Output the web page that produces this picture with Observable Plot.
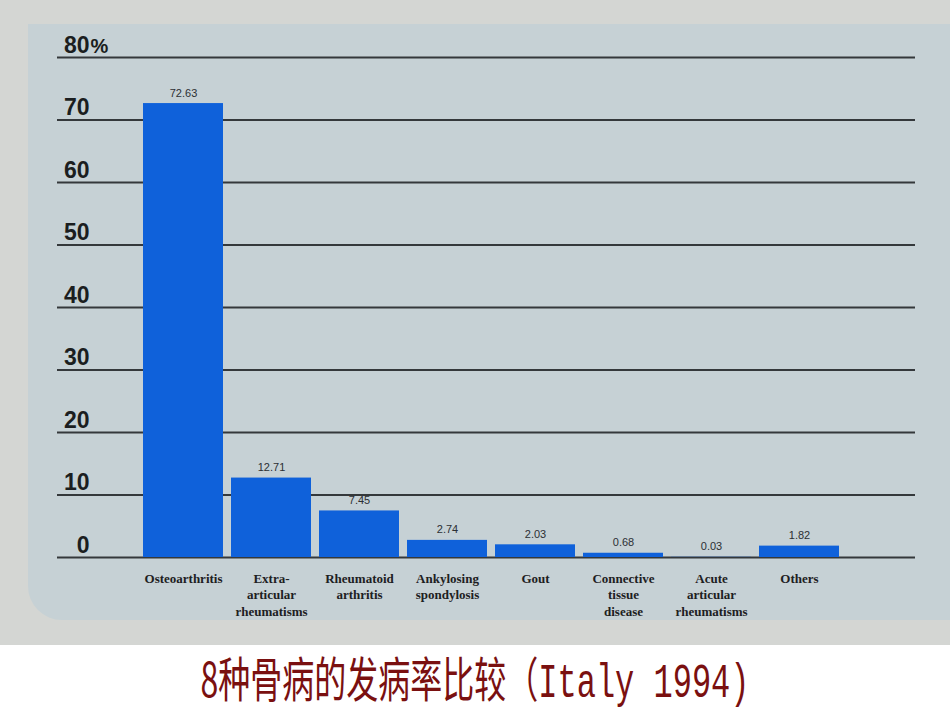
<!DOCTYPE html>
<html>
<head>
<meta charset="utf-8">
<script src="https://cdn.jsdelivr.net/npm/d3@7"></script>
<script src="https://cdn.jsdelivr.net/npm/@observablehq/plot@0.6"></script>
<style>
  html, body { margin: 0; padding: 0; background: #ffffff; }
  #page { position: relative; width: 950px; height: 645px; background: #d4d6d3; overflow: hidden; }
  #panel { position: absolute; left: 28px; top: 24px; width: 940px; height: 596px;
           background: #c6d1d5; border-radius: 0 0 0 34px; }
  #chart { position: absolute; left: 0; top: 0; }
  #title { width: 950px; height: 68px; text-align: center; color: #7a1010;
           font-family: "Noto Sans CJK SC", "Liberation Mono", monospace; font-size: 32px;
           line-height: 68px; white-space: nowrap; }
  #title span { display: inline-block; transform: scaleY(1.5); transform-origin: 50% 55%; }
  #title .mono { font-family: "Liberation Mono", "DejaVu Sans Mono", monospace; transform: none; }
</style>
</head>
<body>
<div id="page">
  <div id="panel"></div>
  <div id="chart"></div>
</div>
<div id="title"><span>8种骨病的发病率比较（<span class="mono">Italy 1994)</span></span></div>
<script>
const categories = ["Osteoarthritis", "Extra-articular rheumatisms", "Rheumatoid arthritis",
  "Ankylosing spondylosis", "Gout", "Connective tissue disease",
  "Acute articular rheumatisms", "Others"];
const categoryLabels = ["Osteoarthritis", "Extra-\narticular\nrheumatisms", "Rheumatoid\narthritis",
  "Ankylosing\nspondylosis", "Gout", "Connective\ntissue\ndisease",
  "Acute\narticular\nrheumatisms", "Others"];
const values = [72.63, 12.71, 7.45, 2.74, 2.03, 0.68, 0.03, 1.82];
const yTicks = [0, 10, 20, 30, 40, 50, 60, 70, 80];
const yTickLabels = ["0", "10", "20", "30", "40", "50", "60", "70", "80"];

const data = categories.map((c, i) => ({category: c, label: categoryLabels[i], value: values[i]}));
const ticks = yTicks.map((t, i) => ({t, label: yTickLabels[i]}));

const chart = Plot.plot({
  width: 950,
  height: 645,
  marginLeft: 57,
  marginRight: 35,
  marginTop: 40,
  marginBottom: 60,
  style: {background: "transparent", overflow: "visible"},
  x: {domain: categories, range: [141, 842], paddingInner: 0.09, paddingOuter: 0, axis: null},
  y: {domain: [0, 80], range: [557, 57], axis: null},
  marks: [
    Plot.ruleY(yTicks, {stroke: "#34383b", strokeWidth: 2}),
    Plot.barY(data, {x: "category", y: "value", fill: "#0f61da"}),
    Plot.text(data, {x: "category", y: "value", text: d => d.value.toFixed(2),
      lineAnchor: "bottom", dy: -7, fontSize: 11, fill: "#2b2f33",
      fontFamily: "Liberation Sans, Arial, sans-serif", style: "letter-spacing:-0.6px"}),
    Plot.text(data, {x: "category", y: () => 0, text: "label", lineAnchor: "top", dy: 14,
      lineHeight: 1.25, fontSize: 13, fontWeight: "bold", fill: "#1d2022",
      fontFamily: "Liberation Serif, Times New Roman, serif"}),
    Plot.text(ticks, {y: "t", text: "label", frameAnchor: "left", dx: 32, textAnchor: "end",
      lineAnchor: "bottom", dy: -5, fontSize: 23, fontWeight: "bold", fill: "#1b1e20",
      fontFamily: "Liberation Sans, Arial, sans-serif"}),
    Plot.text(ticks.filter(d => d.t === 80), {y: "t", text: () => "%", frameAnchor: "left", dx: 33,
      textAnchor: "start", lineAnchor: "bottom", dy: -5, fontSize: 20, fontWeight: "bold",
      fill: "#1b1e20", fontFamily: "Liberation Sans, Arial, sans-serif"})
  ]
});
document.getElementById("chart").appendChild(chart);
</script>
</body>
</html>
